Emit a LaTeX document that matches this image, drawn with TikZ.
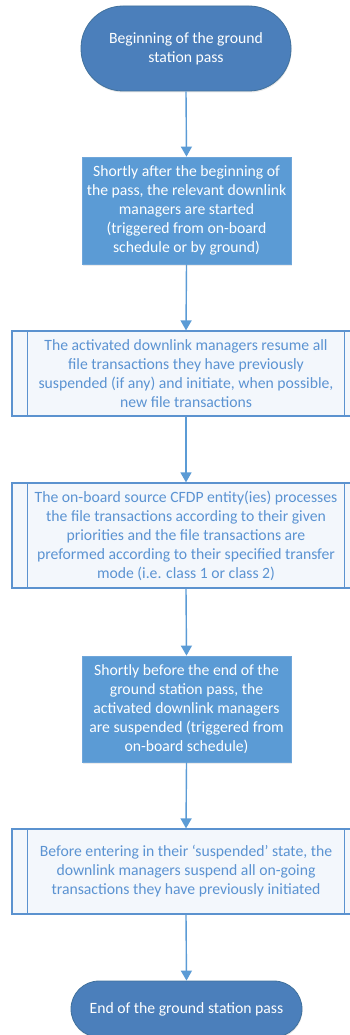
\documentclass[tikz,border=0pt]{standalone}
\usepackage{fontspec}
\setmainfont{Carlito}
\usetikzlibrary{arrows.meta,shadows}
\definecolor{termfill}{HTML}{4B7FBB}
\definecolor{termdraw}{HTML}{41719C}
\definecolor{procfill}{HTML}{5B9BD5}
\definecolor{procdraw}{HTML}{6FA6DA}
\definecolor{predfill}{HTML}{F3F7FC}
\definecolor{preddraw}{HTML}{5B92CF}
\definecolor{predtext}{HTML}{5B93D2}
\definecolor{flow}{HTML}{5B9BD5}
\tikzset{
  x=1pt, y=-1pt,
  every node/.style={font=\fontsize{15.7pt}{19pt}\selectfont, align=center, inner sep=0pt},
  terminal/.style={fill=termfill, draw=termdraw, line width=0.8pt, text=white,
    drop shadow={opacity=0.18, shadow xshift=0.5pt, shadow yshift=-1.5pt}},
  procbox/.style={fill=procfill, draw=procdraw, line width=0.8pt, text=white,
    minimum width=209pt,
    drop shadow={opacity=0.15, shadow xshift=0.5pt, shadow yshift=-1.5pt}},
  predbox/.style={fill=predfill, draw=preddraw, line width=1.2pt, text=predtext,
    minimum width=348pt},
  flowline/.style={draw=flow, line width=1.4pt, -{Triangle[width=11pt,length=10pt]}}
}
\begin{document}
\begin{tikzpicture}
\useasboundingbox (0,0) rectangle (349,1035);

% start terminal
\node[terminal, rounded corners=42pt, minimum width=210pt, minimum height=85pt]
  (start) at (186,48.5) {Beginning of the ground\\station pass};

% downlink managers started
\node[procbox, minimum height=107pt] (started) at (186.5,210.5)
  {Shortly after the beginning of\\the pass, the relevant downlink\\managers are started\\(triggered from on-board\\schedule or by ground)};

% resume transactions
\node[predbox, minimum height=85pt] (resume) at (186,373.5)
  {The activated downlink managers resume all\\file transactions they have previously\\suspended (if any) and initiate, when possible,\\new file transactions};

% CFDP processing
\node[predbox, minimum height=105pt] (process) at (186,535.5)
  {The on-board source CFDP entity(ies) processes\\the file transactions according to their given\\priorities and the file transactions are\\preformed according to their specified transfer\\mode (i.e. class 1 or class 2)};

% downlink managers suspended
\node[procbox, minimum height=106pt] (suspended) at (186.5,709)
  {Shortly before the end of the\\ground station pass, the\\activated downlink managers\\are suspended (triggered from\\on-board schedule)};

% suspend transactions
\node[predbox, minimum height=85pt] (suspendall) at (186,871.5)
  {Before entering in their `suspended' state, the\\downlink managers suspend all on-going\\transactions they have previously initiated};

% end terminal
\node[terminal, rounded corners=28pt, minimum width=231pt, minimum height=56pt]
  (end) at (186.5,1009) {End of the ground station pass};

% side bars of the predefined-process boxes
\foreach \b in {resume,process,suspendall}{
  \draw[preddraw, line width=1.2pt] ([xshift=16pt]\b.north west) -- ([xshift=16pt]\b.south west);
  \draw[preddraw, line width=1.2pt] ([xshift=-16pt]\b.north east) -- ([xshift=-16pt]\b.south east);
}

% flow connectors
\draw[flowline] (start.south) -- (started.north);
\draw[flowline] (started.south) -- (resume.north);
\draw[flowline] (resume.south) -- (process.north);
\draw[flowline] (process.south) -- (suspended.north);
\draw[flowline] (suspended.south) -- (suspendall.north);
\draw[flowline] (suspendall.south) -- (end.north);
\end{tikzpicture}
\end{document}
